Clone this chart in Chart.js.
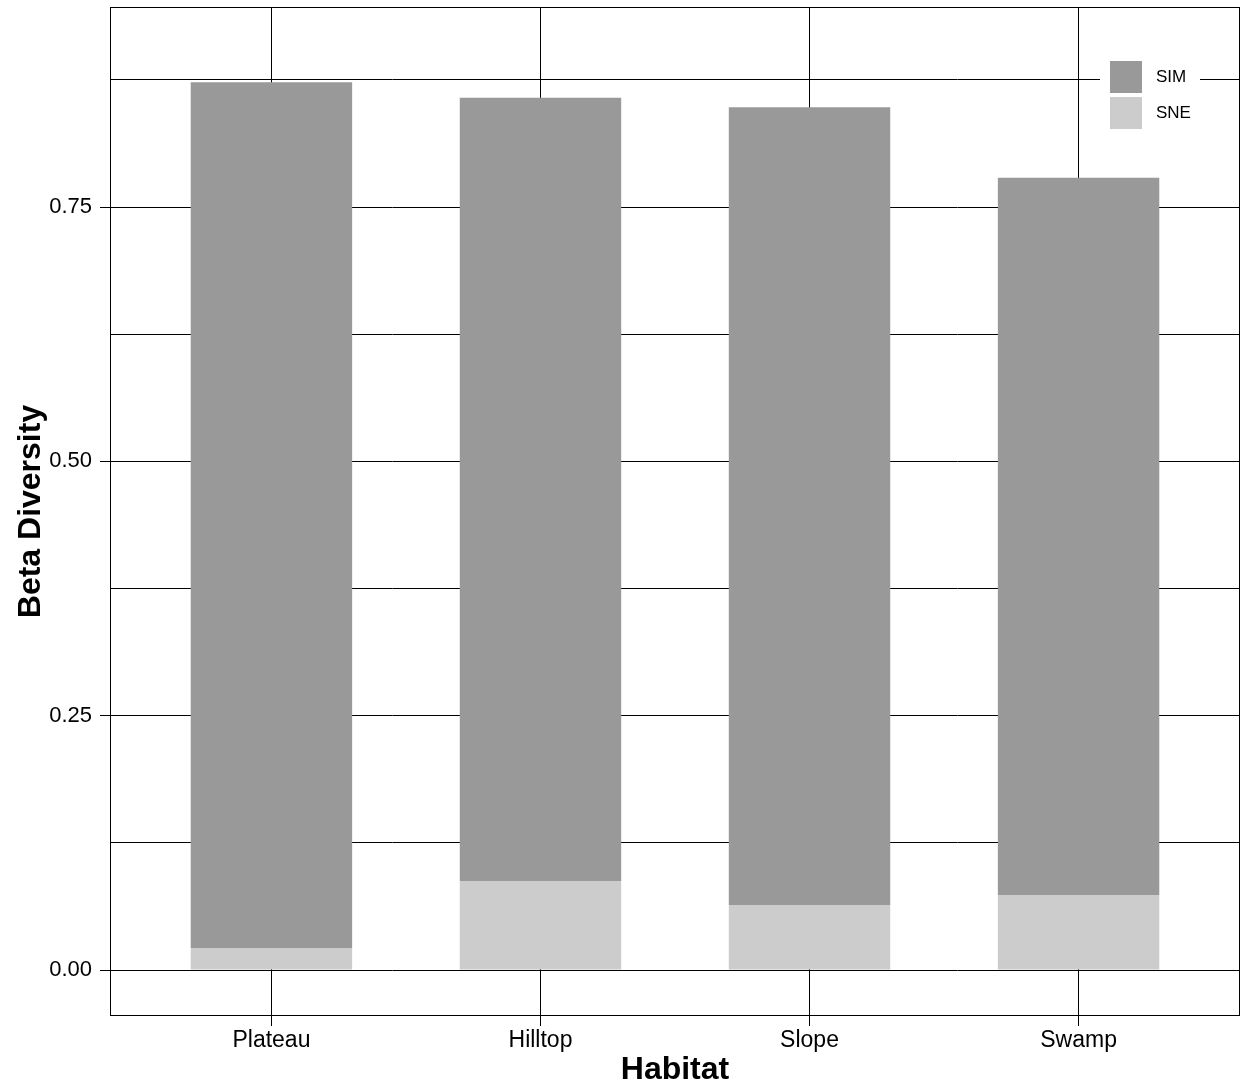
<!DOCTYPE html>
<html><head><meta charset="utf-8">
<script src="https://cdn.jsdelivr.net/npm/chart.js@4/dist/chart.umd.min.js"></script>
<style>html,body{margin:0;padding:0;background:#fff}#c{display:block}</style>
</head><body>
<div style="width:1241px;height:1089px"><canvas id="c"></canvas></div>
<script>
const categories = ['Plateau','Hilltop','Slope','Swamp'];
const sneValues = [0.0216, 0.0875, 0.064, 0.0737];
const simValues = [0.851, 0.770, 0.784, 0.705];
const yMin = -0.0452, yMax = 0.9466;

const FONT = "'Liberation Sans', Arial, sans-serif";
const isMajor = v => Math.abs(v/0.25 - Math.round(v/0.25)) < 1e-6;
const pts = arr => arr.map((v,i)=>({x:i+1, y:v}));

const borderLegend = {
  id:'borderLegend',
  afterDraw(chart){
    const {ctx, chartArea:a} = chart;
    ctx.save();
    ctx.strokeStyle='#000'; ctx.lineWidth=1;
    ctx.strokeRect(a.left+0.5, a.top+0.5, a.right-a.left-1, a.bottom-a.top-1);
    const items = chart.data.datasets.slice().reverse();
    const x0 = a.right-140, y0 = a.top+48;
    ctx.fillStyle='#fff';
    ctx.fillRect(x0, y0, 100, 84);
    items.forEach((d,i)=>{
      ctx.fillStyle=d.backgroundColor;
      ctx.fillRect(x0+10, y0+6+i*36, 32, 32);
      ctx.fillStyle='#000';
      ctx.font='17px '+FONT;
      ctx.textBaseline='middle';
      ctx.fillText(d.label, x0+56, y0+22+i*36);
    });
    ctx.restore();
  }
};

new Chart(document.getElementById('c'), {
  type:'bar',
  data:{datasets:[
    {label:'SNE', data:pts(sneValues), backgroundColor:'#cccccc'},
    {label:'SIM', data:pts(simValues), backgroundColor:'#999999'}
  ]},
  options:{
    responsive:true, maintainAspectRatio:false, animation:false,
    layout:{padding:{top:7,right:1,left:0,bottom:0}},
    plugins:{legend:{display:false}, tooltip:{enabled:false}},
    datasets:{bar:{barPercentage:0.6, categoryPercentage:1}},
    scales:{
      x:{type:'linear', stacked:true, min:0.4, max:4.6, offset:false,
        afterBuildTicks(s){ s.ticks = categories.map((c,i)=>({value:i+1})); },
        grid:{offset:false, color:'#000', lineWidth:1, drawTicks:true, tickLength:10, tickColor:'#000'},
        border:{display:false},
        ticks:{color:'#000', font:{family:FONT,size:23}, padding:1, callback:v=>categories[Math.round(v)-1]},
        title:{display:true, text:'Habitat', color:'#000', font:{family:FONT,size:32,weight:'bold'}, padding:{top:0,bottom:0}},
        afterFit(s){ s.height = 73; s.paddingLeft=0; s.paddingRight=0; }
      },
      y:{stacked:true, min:yMin, max:yMax,
        afterBuildTicks(s){
          const t=[]; for(let k=0;k<=7;k++) t.push({value:k*0.125}); s.ticks=t;
        },
        grid:{color:'#000', lineWidth:1, tickLength:10,
          tickColor:c=>isMajor(c.tick.value)?'#000':'rgba(0,0,0,0)'},
        border:{display:false},
        ticks:{color:'#000', font:{family:FONT,size:22}, padding:8,
          callback:v=>isMajor(v)?v.toFixed(2):''},
        title:{display:true, text:'Beta Diversity', color:'#000', font:{family:FONT,size:32,weight:'bold'}, padding:{top:12,bottom:0}},
        afterFit(s){ s.width = 110; s.paddingTop=0; s.paddingBottom=0; }
      }
    }
  },
  plugins:[borderLegend]
});
</script>
</body></html>
